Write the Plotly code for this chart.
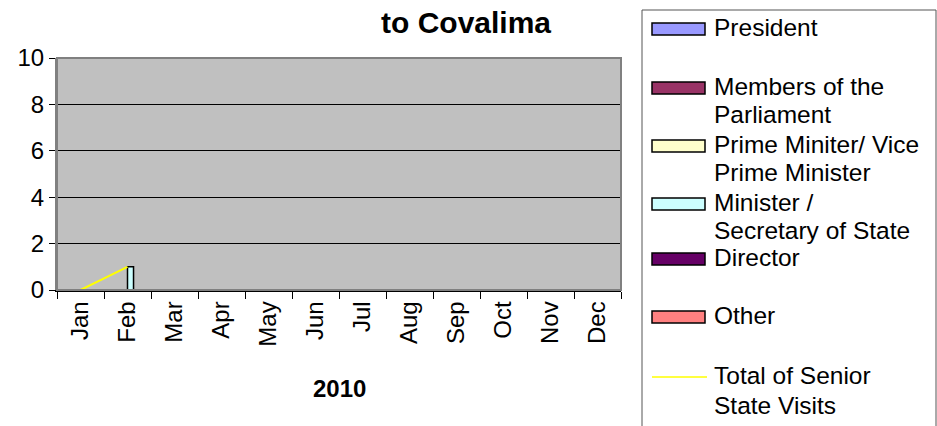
import plotly.graph_objects as go

months = ["Jan", "Feb", "Mar", "Apr", "May", "Jun", "Jul", "Aug", "Sep", "Oct", "Nov", "Dec"]
series_names = ["President", "Members of the Parliament", "Prime Miniter/ Vice Prime Minister",
                "Minister / Secretary of State", "Director", "Other"]
president = [0, 0, None, None, None, None, None, None, None, None, None, None]
members = [0, 0, None, None, None, None, None, None, None, None, None, None]
prime = [0, 0, None, None, None, None, None, None, None, None, None, None]
minister = [0, 1, None, None, None, None, None, None, None, None, None, None]
director = [0, 0, None, None, None, None, None, None, None, None, None, None]
other = [0, 0, None, None, None, None, None, None, None, None, None, None]
total = [0, 1, None, None, None, None, None, None, None, None, None, None]

colors = ["#9999FF", "#993366", "#FFFFCC", "#CCFFFF", "#660066", "#FF8080"]
legend_lines = [["President"], ["Members of the", "Parliament"], ["Prime Miniter/ Vice", "Prime Minister"],
                ["Minister /", "Secretary of State"], ["Director"], ["Other"]]
total_lines = ["Total of Senior", "State Visits"]
x_title = "2010"
chart_title = "to Covalima"

W, H = 937, 426
L, R, T, B = 57, 621, 58, 290
FONT = "Liberation Sans, Arial, sans-serif"

def px(x):
    return (x - L) / (R - L)

def py(y):
    return (B - y) / (B - T)

fig = go.Figure()
for name, vals, col in zip(series_names, [president, members, prime, minister, director, other], colors):
    fig.add_trace(go.Bar(x=months, y=vals, name=name, marker=dict(color=col, line=dict(color="black", width=1.5)),
                         showlegend=False))
fig.add_trace(go.Scatter(x=months, y=total, mode="lines", line=dict(color="#FFFF00", width=2),
                         showlegend=False, connectgaps=False))

shapes = []
annotations = []
# legend box
shapes.append(dict(type="rect", xref="paper", yref="paper", x0=px(642), x1=px(936), y0=py(440), y1=py(10),
                   line=dict(color="#555555", width=1), fillcolor="white", layer="below"))
item_y = [29, 88, 146, 204, 259, 317]
for lines, col, yc in zip(legend_lines, colors, item_y):
    shapes.append(dict(type="rect", xref="paper", yref="paper", x0=px(652), x1=px(705), y0=py(yc + 6), y1=py(yc - 6),
                       line=dict(color="black", width=1.5), fillcolor=col))
    for i, t in enumerate(lines):
        annotations.append(dict(text=t, xref="paper", yref="paper", x=px(712), y=py(yc - 2 + i * 28.5),
                                xanchor="left", yanchor="middle", showarrow=False,
                                font=dict(family=FONT, size=24.5, color="black")))
shapes.append(dict(type="line", xref="paper", yref="paper", x0=px(652), x1=px(707), y0=py(377), y1=py(377),
                   line=dict(color="#FFFF00", width=1.5)))
for i, t in enumerate(total_lines):
    annotations.append(dict(text=t, xref="paper", yref="paper", x=px(712), y=py(375 + i * 30),
                            xanchor="left", yanchor="middle", showarrow=False,
                            font=dict(family=FONT, size=24.5, color="black")))
# title
annotations.append(dict(text="<b>" + chart_title + "</b>", xref="paper", yref="paper", x=px(466), y=py(22),
                        xanchor="center", yanchor="middle", showarrow=False,
                        font=dict(family=FONT, size=30, color="black")))
# x axis title
annotations.append(dict(text="<b>" + x_title + "</b>", xref="paper", yref="paper", x=px(339), y=py(388),
                        xanchor="center", yanchor="middle", showarrow=False,
                        font=dict(family=FONT, size=24, color="black")))
# plot border
shapes.append(dict(type="rect", xref="paper", yref="paper", x0=0, x1=1, y0=0, y1=1,
                   line=dict(color="#808080", width=2), layer="above"))

fig.update_layout(
    width=W, height=H,
    margin=dict(l=L, r=W - R, t=T, b=H - B, pad=0),
    paper_bgcolor="white", plot_bgcolor="#C0C0C0",
    barmode="group", bargap=0.23, bargroupgap=0,
    font=dict(family=FONT, size=22, color="black"),
    shapes=shapes, annotations=annotations,
    showlegend=False,
)
fig.update_xaxes(type="category", tickangle=-90, ticks="outside", ticklen=7, tickcolor="black",
                 tickson="boundaries", showline=True, linecolor="black", linewidth=1.5,
                 tickfont=dict(family=FONT, size=24, color="black"),
                 showgrid=False, range=[-0.5, 11.5])
fig.update_yaxes(range=[0, 10], dtick=2, ticks="outside", ticklen=6, tickcolor="black",
                 showgrid=True, gridcolor="black", gridwidth=1, zeroline=False,
                 showline=True, linecolor="#808080", linewidth=2,
                 tickfont=dict(family=FONT, size=24, color="black"))

fig.write_html("out.html", config={"displayModeBar": False},
               post_script="document.body.style.margin='0';document.body.style.overflow='hidden';")
